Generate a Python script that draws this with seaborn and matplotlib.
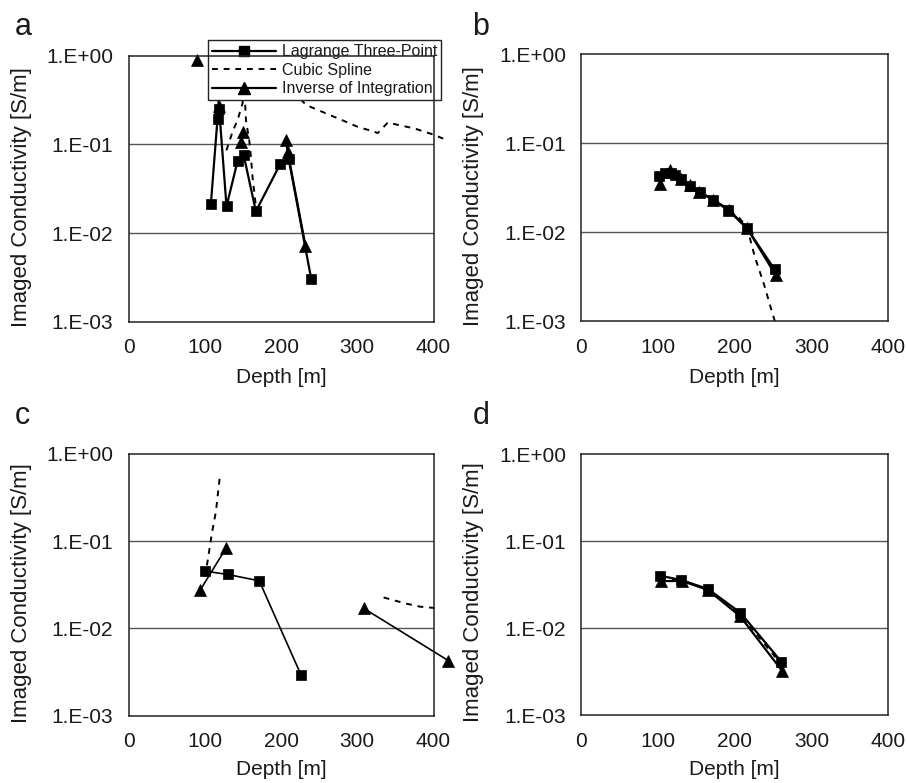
import numpy as np
import matplotlib
matplotlib.use("Agg")
import matplotlib.pyplot as plt
import seaborn as sns
from matplotlib.lines import Line2D
from matplotlib.ticker import NullLocator

sns.set_theme(style="white")
plt.rcParams["font.family"] = ["Liberation Sans", "DejaVu Sans"]

nan = np.nan

# ---- panel a ----
a_lag_x = [108, 116.7, 118.9, 128.5, 143, 150.9, 167, 198.7, 210, 239.5]
a_lag_y = [0.0213, 0.195, 0.247, 0.020, 0.0648, 0.0764, 0.0176, 0.0594, 0.0688, 0.00307]
a_inv_x = [90.4, nan, 116.7, 118.5, nan, 147.4, 149.6, nan, 206.6, 208.8, 232]
a_inv_y = [0.89, nan, 0.434, 0.27, nan, 0.106, 0.138, nan, 0.111, 0.082, 0.0072]
a_spl_x = [128.4, 132, 136.3, 142.9, 149.5, 151.5, 154, 158.3, 160.5, 162.6, 167,
           nan, 215, 233, 268, 285.5, 300.8, 316, 327, 340, 355.6, 375, 399.5, 412.6]
a_spl_y = [0.0855, 0.106, 0.138, 0.187, 0.289, 0.5, 0.187, 0.111, 0.072, 0.043, 0.02,
           nan, 0.4, 0.277, 0.207, 0.179, 0.157, 0.144, 0.134, 0.176, 0.164, 0.151, 0.129, 0.116]

# ---- panel b ----
b_lag_x = [100.9, 108.7, 117.4, 121.7, 130.4, 141.3, 154.3, 171.7, 191.3, 216, 252]
b_lag_y = [0.043, 0.046, 0.0468, 0.044, 0.0394, 0.0334, 0.0282, 0.0231, 0.0178, 0.0111, 0.00384]
b_inv_x = [102.6, 115, 130, 141, 154, 172, 192, 216, 253.5]
b_inv_y = [0.035, 0.05, 0.040, 0.034, 0.0285, 0.0233, 0.018, 0.0112, 0.0033]
b_spl_x = [102, 110, 118, 131, 142, 155, 172, 191, 206, 216, 226, 238.3, 247.8, 252.5]
b_spl_y = [0.042, 0.045, 0.046, 0.039, 0.033, 0.028, 0.023, 0.018, 0.0145, 0.0115,
           0.0054, 0.0026, 0.00136, 0.001]

# ---- panel c ----
c_lag_x = [99.7, 129.9, 171.4, 226]
c_lag_y = [0.0454, 0.0415, 0.0351, 0.00295]
c_inv_x = [94, 127.7, nan, 308.7, 419.6]
c_inv_y = [0.0275, 0.0826, nan, 0.0169, 0.00425]
c_spl_x = [99.7, 103.6, 109.3, 114.6, 120.2, nan, 334.5, 363, 382.6, 408.8]
c_spl_y = [0.039, 0.058, 0.123, 0.218, 0.6, nan, 0.0226, 0.0193, 0.0177, 0.0169]

# ---- panel d ----
d_lag_x = [102.6, 130.4, 165.2, 207.4, 260.9]
d_lag_y = [0.040, 0.0356, 0.0281, 0.015, 0.0041]
d_inv_x = [104.3, 131.7, 165.2, 207, 261.7]
d_inv_y = [0.0347, 0.0347, 0.0273, 0.0137, 0.00323]
d_spl_x = [103, 131, 165, 207, 261]
d_spl_y = [0.039, 0.035, 0.0278, 0.0145, 0.0038]

legend_names = ["Lagrange Three-Point", "Cubic Spline", "Inverse of Integration"]
ytick_vals = [1, 0.1, 0.01, 0.001]
ytick_labels = ["1.E+00", "1.E-01", "1.E-02", "1.E-03"]
xtick_vals = [0, 100, 200, 300, 400]

FS = 15
TXT = "#1a1a1a"
lag_kw = dict(color="black", marker="s", markersize=6.5, linewidth=1.6)
inv_kw = dict(color="black", marker="^", markersize=8, linewidth=1.6)
spl_kw = dict(color="black", linewidth=1.4, linestyle=(0, (3, 3)))


def draw(ax, xs, ys, **kw):
    # split on nan gaps and draw each piece
    x = np.array(xs, float)
    y = np.array(ys, float)
    seg = np.cumsum(np.isnan(x))
    for s in np.unique(seg):
        m = (seg == s) & ~np.isnan(x)
        if m.sum():
            sns.lineplot(x=x[m], y=y[m], ax=ax, sort=False, estimator=None,
                         legend=False, markeredgecolor="black", markeredgewidth=0.5,
                         clip_on=False, zorder=2, **kw)


fig = plt.figure(figsize=(9.07, 7.83), dpi=100)
rects = {
    "a": [0.1417, 0.589, 0.3363, 0.340],
    "b": [0.6411, 0.5894, 0.3379, 0.3416],
    "c": [0.1417, 0.0862, 0.3363, 0.334],
    "d": [0.6411, 0.0868, 0.3379, 0.3333],
}
panels = {
    "a": (a_lag_x, a_lag_y, a_spl_x, a_spl_y, a_inv_x, a_inv_y),
    "b": (b_lag_x, b_lag_y, b_spl_x, b_spl_y, b_inv_x, b_inv_y),
    "c": (c_lag_x, c_lag_y, c_spl_x, c_spl_y, c_inv_x, c_inv_y),
    "d": (d_lag_x, d_lag_y, d_spl_x, d_spl_y, d_inv_x, d_inv_y),
}
letter_pos = {"a": (0.016, 0.9553), "b": (0.521, 0.9553), "c": (0.016, 0.4585), "d": (0.521, 0.4585)}

for key, rect in rects.items():
    ax = fig.add_axes(rect)
    ax.set_yscale("log")
    lx, ly, sx, sy, ix, iy = panels[key]
    lw = 1.2 if key == "c" else 1.6
    draw(ax, sx, sy, **spl_kw)
    draw(ax, ix, iy, **{**inv_kw, "linewidth": lw})
    draw(ax, lx, ly, **{**lag_kw, "linewidth": lw})

    ax.set_xlim(0, 400)
    ax.set_ylim(0.001, 1)
    ax.set_xticks(xtick_vals)
    ax.set_xticklabels([str(v) for v in xtick_vals], fontsize=FS)
    ax.set_yticks(ytick_vals)
    ax.set_yticklabels(ytick_labels, fontsize=FS)
    ax.yaxis.set_minor_locator(NullLocator())
    ax.tick_params(axis="x", direction="in", length=5, width=1, color="black", pad=12, labelcolor=TXT)
    ax.tick_params(axis="y", direction="in", length=0, pad=11, labelcolor=TXT)
    ax.grid(False)
    for yv in ytick_vals[1:3]:
        ax.axhline(yv, color="#555555", linewidth=1.0, zorder=0.5)
    for sp in ax.spines.values():
        sp.set_color("#222222")
        sp.set_linewidth(1.1)
        sp.set_visible(True)

    ax.set_xlabel("Depth [m]", fontsize=FS, color=TXT)
    ax.set_ylabel("Imaged Conductivity [S/m]", fontsize=16, color=TXT)
    ax.yaxis.set_label_coords(-0.318, 0.47)
    ax.xaxis.set_label_coords(0.5, -0.172)

    fig.text(*letter_pos[key], key, fontsize=22, color=TXT, ha="left", va="baseline")

    if key == "a":
        handles = [
            Line2D([], [], color="black", marker="s", markersize=6.5, linewidth=1.6),
            Line2D([], [], color="black", linewidth=1.4, linestyle=(0, (3, 3))),
            Line2D([], [], color="black", marker="^", markersize=8, linewidth=1.6),
        ]
        leg = ax.legend(handles, legend_names, loc="upper left", bbox_to_anchor=(0.262, 1.058),
                        fontsize=11.5, frameon=True, fancybox=False, framealpha=1,
                        facecolor="white", edgecolor="#222222", borderpad=0.25,
                        borderaxespad=0, labelspacing=0.22, handlelength=4.0,
                        handletextpad=0.35, markerscale=1.0)
        leg.get_frame().set_linewidth(1.0)
        for t in leg.get_texts():
            t.set_color(TXT)
        leg.set_zorder(2.4)

fig.savefig("out.png", dpi=100)
